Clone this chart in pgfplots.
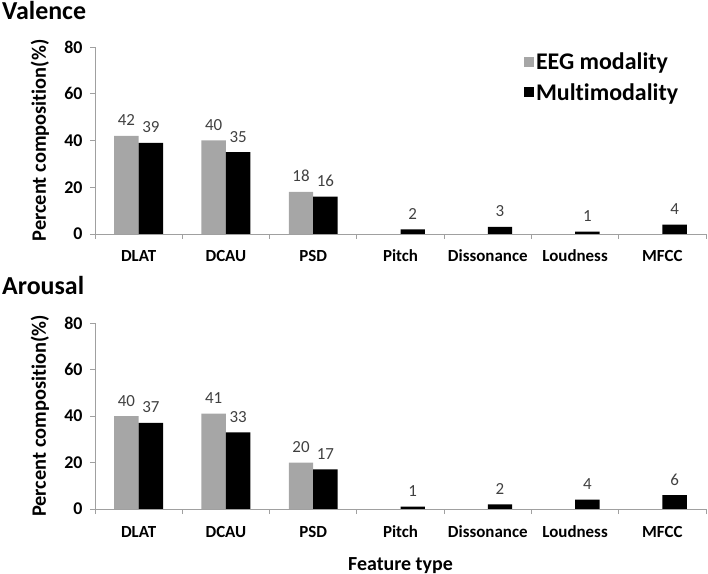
\documentclass[border=0pt]{standalone}
\usepackage{fontspec}
\setmainfont{Carlito}[Ligatures={NoCommon}]
\usepackage{pgfplots}
\pgfplotsset{compat=1.18}
\definecolor{eeg}{HTML}{A6A6A6}
\definecolor{lab}{HTML}{404040}
\definecolor{axc}{HTML}{A0A0A0}
\pgfplotsset{
 mystyle/.style={
  width=611bp, height=187bp, scale only axis,
  xmin=-0.5, xmax=6.5, ymin=0, ymax=80,
  ytick={0,20,...,80},
  xtick={-0.5,0.5,...,6.5}, xticklabels={},
  extra x ticks={0,...,6},
  extra x tick labels={DLAT,DCAU,PSD,Pitch,Dissonance,Loudness,MFCC},
  extra x tick style={major tick length=0pt},
  axis x line*=bottom, axis y line*=left,
  axis line style={draw=axc, line width=0.8pt},
  tick style={draw=axc, line width=0.8pt},
  tick align=outside, major tick length=5bp,
  /pgf/number format/assume math mode=true,
  yticklabel style={font=\bfseries\fontsize{18}{18}\selectfont, xshift=-4bp},
  xticklabel style={font=\bfseries\fontsize{17}{17}\selectfont, anchor=base, yshift=-28bp},
  ylabel={Percent composition(\%)},
  ylabel style={font=\bfseries\fontsize{20.5}{20.5}\selectfont, at={(axis description cs:-0.09,0.5)}, anchor=center},
  ybar, bar width=0.28,
  nodes near coords,
  nodes near coords style={font=\fontsize{17}{17}\selectfont, text=lab, anchor=base, yshift=10bp},
  sq/.style={legend image code/.code={\fill[##1] (0bp,-5bp) rectangle (10bp,5bp);}},
 }
}
\begin{document}
\begin{tikzpicture}
\useasboundingbox (0,0) rectangle (708bp,574bp);
\node[anchor=base west, font=\bfseries\fontsize{26}{26}\selectfont, inner sep=0pt] at (2bp,554bp) {Valence};
\node[anchor=base west, font=\bfseries\fontsize{26}{26}\selectfont, inner sep=0pt] at (2bp,279bp) {Arousal};
\begin{axis}[mystyle, at={(95bp,340bp)}, anchor=south west,
  legend cell align=left,
  legend style={draw=none, fill=none, font=\bfseries\fontsize{24}{24}\selectfont, row sep=8bp,
    at={(axis description cs:0.697,0.99)}, anchor=north west},
  ]
\addplot[fill=eeg, draw=none, bar shift=-0.14, sq] coordinates {(0,42) (1,40) (2,18)};
\addplot[fill=black, draw=none, bar shift=0.14, sq] coordinates {(0,39) (1,35) (2,16) (3,2) (4,3) (5,1) (6,4)};
\legend{EEG modality, Multimodality}
\end{axis}
\begin{axis}[mystyle, at={(95bp,65bp)}, anchor=south west, height=186bp,
  xlabel={Feature type},
  xlabel style={font=\bfseries\fontsize{20}{20}\selectfont, at={(axis description cs:0.5,-0.328)}, anchor=base},
  ]
\addplot[fill=eeg, draw=none, bar shift=-0.14] coordinates {(0,40) (1,41) (2,20)};
\addplot[fill=black, draw=none, bar shift=0.14] coordinates {(0,37) (1,33) (2,17) (3,1) (4,2) (5,4) (6,6)};
\end{axis}
\end{tikzpicture}
\end{document}
